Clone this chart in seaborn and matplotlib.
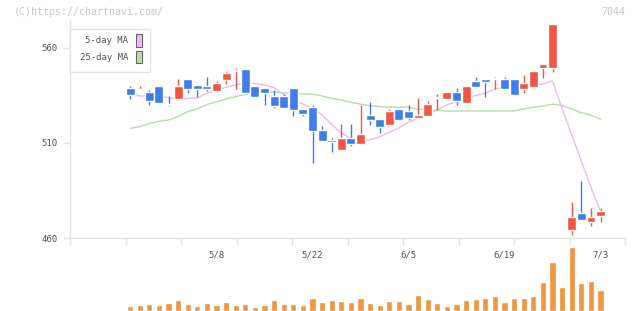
import numpy as np
import pandas as pd
import seaborn as sns
import matplotlib.pyplot as plt
from matplotlib.patches import Rectangle

# daily candles (index 0 .. 50)
opens = [539, 538.8, 537.7, 536.8, 540, 530.5, 533.3, 543.7, 540.5, 540,
         537.4, 543.2, 547.9, 549, 540, 538.9, 534.7, 534.7, 538.9, 527.9,
         529, 516.8, 511.6, 506.3, 512.6, 509.5, 524.7, 522.6, 519.5, 527.9,
         526.8, 523.2, 524.2, 533.5, 533.2, 536.8, 531, 542.6, 543.7, 543.5,
         543.7, 543.7, 538.4, 539.5, 549.3, 549.3, 473, 464.2, 473.2, 468.4,
         471.6]
highs = [539, 540, 540, 537.9, 540, 534.7, 543.7, 543.7, 540.5, 544.7,
         542.6, 547.9, 549.5, 549, 540, 538.9, 537.9, 535.8, 538.9, 527.9,
         530, 519, 512.6, 520, 520, 530, 531.6, 522.6, 527.9, 527.9,
         530, 533.7, 532.1, 535.8, 536.8, 539, 540, 544.7, 543.7, 544.7,
         544.7, 543.7, 545.8, 547.9, 551.6, 572.6, 473, 479, 490, 475.8,
         475.8]
lows = [539, 533.2, 537.7, 530.2, 531.2, 529.6, 533.3, 536.5, 534.2, 537.4,
        537.4, 541, 538.6, 536.5, 534.4, 530, 528.6, 528.4, 524.2, 524.2,
        499.5, 511, 505.3, 506.3, 508.4, 509.5, 519.5, 515.5, 519.5, 522.1,
        522.1, 523.2, 524.2, 527.4, 533.2, 530, 531, 539.5, 534.2, 538.4,
        538.4, 535.4, 536.3, 539.5, 544.4, 547.5, 473, 461.6, 469.5, 466.3,
        468.4]
closes = [539, 535.4, 537.7, 532.3, 531.2, 530, 540, 538.4, 538.4, 538.4,
          541.6, 546.8, 548.2, 536.5, 534.4, 536.3, 529.6, 528.4, 527.4, 525.3,
          516.3, 511, 510.5, 512.6, 509.5, 514.7, 522.1, 518.4, 526.8, 522.1,
          523.2, 524.7, 530.5, 533.7, 536.8, 532.1, 540, 539.5, 542.1, 543.7,
          538.4, 535.4, 541.6, 547.9, 551.6, 572.6, 473, 471, 469.5, 471,
          474.2]
volume = [0, 15, 18, 21, 18, 24, 33, 21, 15, 24,
          18, 27, 18, 21, 12, 18, 33, 21, 21, 18,
          39, 27, 33, 30, 27, 39, 24, 18, 30, 30,
          21, 45, 36, 24, 15, 21, 33, 36, 39, 42,
          27, 39, 39, 42, 84, 141, 69, 184, 81, 87,
          60]
ma5 = [np.nan, 535.8, 534.7, 534.6, 534.5, 534, 532.6, 533.5, 533.6, 536.2,
       537.9, 539.3, 540.5, 541.7, 541.2, 540.5, 539.1, 535.3, 532.6, 530.4,
       528.3, 524.7, 519.8, 515.1, 512.5, 511.4, 511.6, 513.3, 515.6, 517.9,
       520.8, 523, 524.7, 527.4, 530, 531.8, 534, 534.9, 536.2, 538.3,
       539.3, 539.6, 540, 540.5, 541, 542.6, 528, 514.3, 500.5, 486.7,
       473.8]
ma25 = [np.nan, 517.7, 518.6, 520.3, 521.4, 522.1, 523.9, 526.5, 527.9, 530.2,
        531.6, 533.2, 534.4, 535.5, 536.3, 536.8, 536.8, 536.3, 535.8, 535.8,
        535.6, 534.7, 533.5, 532.6, 531.4, 530.4, 529.6, 529.1, 528.8, 528.8,
        528.8, 527.7, 527.4, 527.2, 526.8, 526.8, 526.8, 526.8, 526.8, 526.8,
        526.8, 526.8, 527.9, 528.8, 529.5, 530.4, 529.8, 527.9, 525.9, 524.7,
        522.5]
date_pos = [10, 20, 30, 40, 50]
date_labels = ['5/8', '5/22', '6/5', '6/19', '7/3']
price_ticks = [460, 510, 560]

UP = '#f25542'
DOWN = '#3e7deb'
VOL = '#f0963c'
PINK = '#ecbcec'
GREEN = '#b8dca8'
GRID = '#e3e3e3'

df = pd.DataFrame({'open': opens, 'high': highs, 'low': lows, 'close': closes,
                   'volume': volume, 'ma5': ma5, 'ma25': ma25})
df['idx'] = np.arange(len(df))

sns.set_theme(style='white')
plt.rcParams['font.family'] = ['DejaVu Sans Mono']

W, H = 640, 311
fig = plt.figure(figsize=(6.4, 3.11), dpi=100)
ax = fig.add_axes([70 / W, 1 - 238 / H, 555 / W, 218 / H])
axv = fig.add_axes([70 / W, 0, 555 / W, 65 / H])

xlim = (-5.26, 52.55)

# volume
sns.barplot(data=df, x='idx', y='volume', color=VOL, saturation=1, width=0.65,
            native_scale=True, errorbar=None, ax=axv)
axv.set_xlim(xlim)
axv.set_ylim(0, 188)
axv.axis('off')

# moving averages (behind the candles)
sns.lineplot(data=df, x='idx', y='ma5', color=PINK, lw=1, ax=ax, zorder=1)
sns.lineplot(data=df, x='idx', y='ma25', color=GREEN, lw=1, ax=ax, zorder=1)

# candles
col = np.where(df['close'] >= df['open'], UP, DOWN)
body_lo = np.minimum(df['open'], df['close'])
body_h = np.maximum(np.abs(df['close'] - df['open']), 0.6)
ax.vlines(df['idx'], df['low'], df['high'], colors=col, lw=1, zorder=2)
ax.bar(df['idx'], body_h, bottom=body_lo, width=0.92, color=col, zorder=3)

ax.set_xlim(xlim)
ax.set_ylim(460, 574.7)
ax.set_xlabel('')
ax.set_ylabel('')
for s in ['top', 'right']:
    ax.spines[s].set_visible(False)
for s in ['left', 'bottom']:
    ax.spines[s].set_color(GRID)
    ax.spines[s].set_linewidth(1)

ax.set_yticks(price_ticks)
ax.set_yticklabels([str(t) for t in price_ticks])
ax.tick_params(axis='y', length=5, width=1, color=GRID, pad=4,
               labelsize=6.5, labelcolor='#555555', left=True)
ax.set_xticks(np.linspace(xlim[0], xlim[1], 11))
ax.set_xticklabels([])
ax.tick_params(axis='x', which='major', length=5, width=1, color=GRID, bottom=True)
ax.set_xticks(date_pos, labels=date_labels, minor=True)
ax.tick_params(axis='x', which='minor', length=0, pad=9,
               labelsize=6.5, labelcolor='#555555')

# header texts
fig.text(14 / W, 1 - 12 / H, '(C)https://chartnavi.com/', color='#c8c8c8',
         fontsize=7.2, va='center', ha='left')
fig.text(625 / W, 1 - 12 / H, '7044', color='#c8c8c8',
         fontsize=7.2, va='center', ha='right')

# legend box
def px(x, y):
    return x / W, 1 - y / H

fig.add_artist(Rectangle(px(70, 72), 80 / W, 43 / H, transform=fig.transFigure,
                         facecolor='white', edgecolor=GRID, lw=1, zorder=10))
for label, colr, ty, y0, y1 in [('5-day MA', '#eebbee', 40.5, 46.5, 34.5),
                                 ('25-day MA', '#b8dcab', 58, 63, 51)]:
    fig.text(128 / W, 1 - ty / H, label, color='#555555', fontsize=6.5,
             ha='right', va='center', zorder=11)
    fig.add_artist(Rectangle(px(136, y0), 6 / W, (y0 - y1) / H,
                             transform=fig.transFigure, facecolor=colr,
                             edgecolor='#666666', lw=0.8, zorder=11))

fig.savefig('out.png', dpi=100)
